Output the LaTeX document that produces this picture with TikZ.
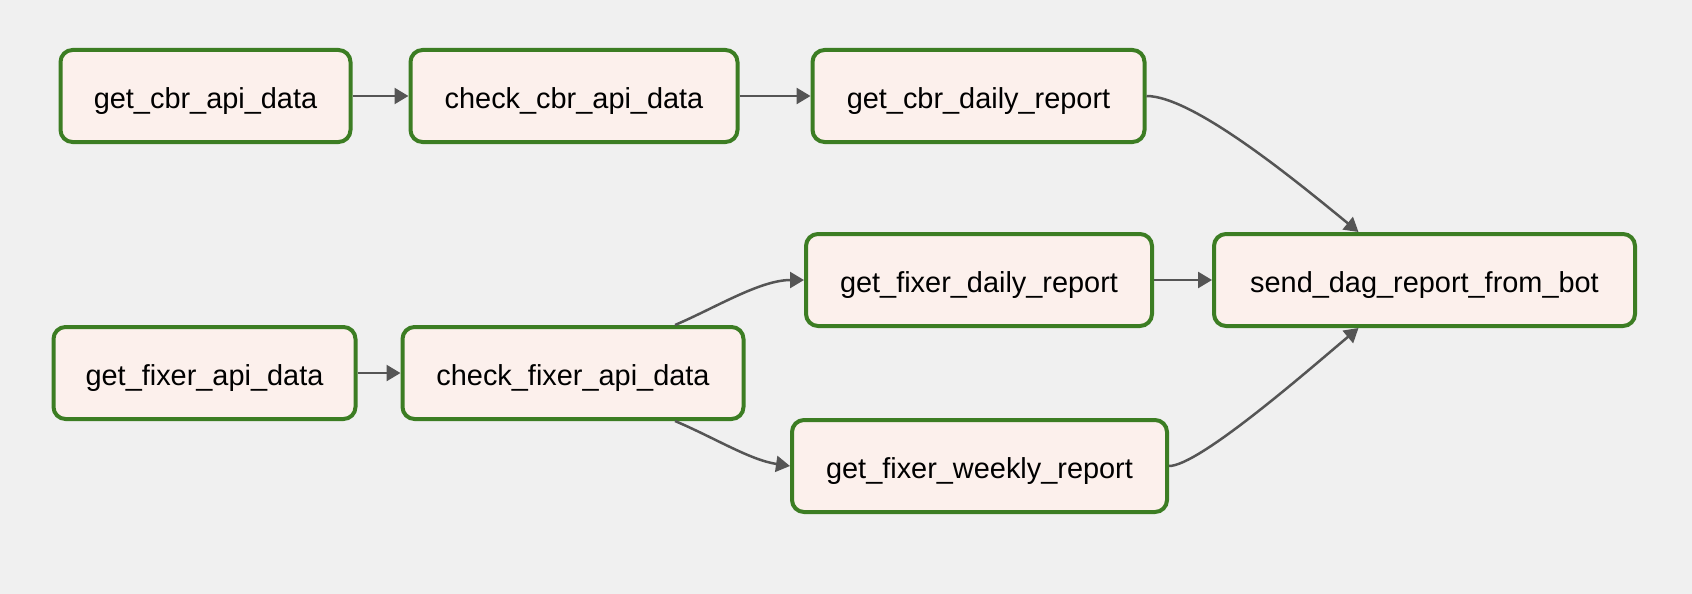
\documentclass[tikz,border=0pt]{standalone}
\usepackage{fontspec}
\setmainfont{Liberation Sans}
\usepackage{tikz}
\usetikzlibrary{arrows.meta}
\definecolor{bggray}{RGB}{240,240,240}
\definecolor{taskfill}{RGB}{252,240,236}
\definecolor{taskline}{RGB}{60,125,35}
\definecolor{edgegray}{RGB}{85,85,85}

\begin{document}
\begin{tikzpicture}[x=1pt,y=-1pt,
    task/.style={rectangle, rounded corners=12pt, draw=taskline, fill=taskfill,
      line width=4pt, inner sep=0pt, minimum height=92pt,
      text height=27pt, text depth=2pt,
      font=\fontsize{28.9}{34}\selectfont},
    flow/.style={draw=edgegray, line width=2.5pt,
      -{Triangle[length=14pt,width=16pt]}}]
          \fill[bggray] (0,0) rectangle (1692,594);
          \node[task, minimum width=290pt] (cbrApi) at (205.5,96) {get\_cbr\_api\_data};
          \node[task, minimum width=327pt] (cbrCheck) at (574,96) {check\_cbr\_api\_data};
          \node[task, minimum width=332pt] (cbrDaily) at (978.5,96) {get\_cbr\_daily\_report};
          \node[task, minimum width=346pt] (fixerDaily) at (979,280) {get\_fixer\_daily\_report};
          \node[task, minimum width=421pt] (sendReport) at (1424.5,280) {send\_dag\_report\_from\_bot};
          \node[task, minimum width=302pt] (fixerApi) at (204.5,373) {get\_fixer\_api\_data};
          \node[task, minimum width=341pt] (fixerCheck) at (573,373) {check\_fixer\_api\_data};
          \node[task, minimum width=375pt] (fixerWeekly) at (979.5,466) {get\_fixer\_weekly\_report};
          \draw[flow] (cbrApi) -- (cbrCheck);
          \draw[flow] (cbrCheck) -- (cbrDaily);
          \draw[flow] (cbrDaily.east) .. controls +(47,0) and +(-60,-49) .. ([xshift=-66pt]sendReport.north);
          \draw[flow] (fixerDaily) -- (sendReport);
          \draw[flow] (fixerWeekly.east) .. controls +(30,0) and +(-50,42) .. ([xshift=-66pt]sendReport.south);
          \draw[flow] (fixerApi) -- (fixerCheck);
          \draw[flow] ([xshift=102pt]fixerCheck.north) .. controls +(40,-17) and +(-44,0) .. (fixerDaily.west);
          \draw[flow] ([xshift=102pt]fixerCheck.south) .. controls +(40,17) and +(-40,-6) .. (fixerWeekly.west);
        \end{tikzpicture}
\end{document}
